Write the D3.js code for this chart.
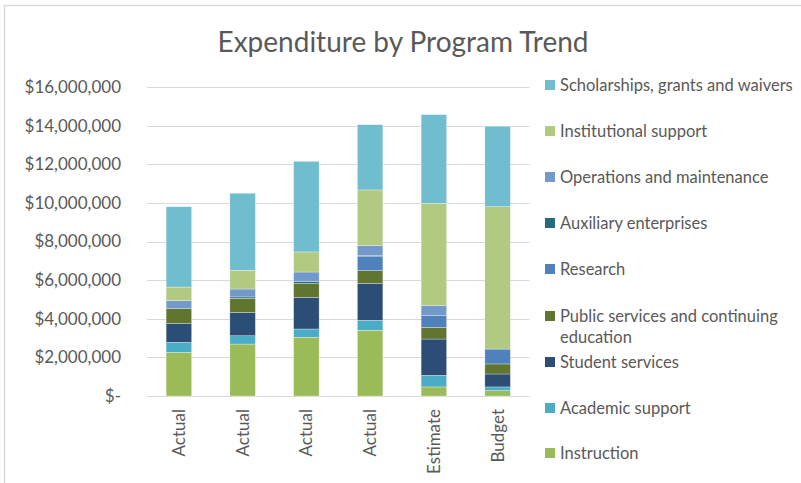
<!DOCTYPE html>
<html>
<head>
<meta charset="utf-8">
<script src="https://cdn.jsdelivr.net/npm/d3@7"></script>
<style>
  body { margin: 0; background: #fff; }
  svg text { font-family: Lato, "Open Sans", sans-serif; fill: #595959; }
</style>
</head>
<body>
<svg width="801" height="483"></svg>
<script>
// categories on the x axis
const categories = ["Actual", "Actual", "Actual", "Actual", "Estimate", "Budget"];

// series, bottom of the stack first
const seriesNames = [
  "Instruction",
  "Academic support",
  "Student services",
  "Public services and continuing education",
  "Research",
  "Auxiliary enterprises",
  "Operations and maintenance",
  "Institutional support",
  "Scholarships, grants and waivers"
];
const seriesColors = ["#9bbb59", "#4bacc6", "#2c4d75", "#5f7530", "#4f81bd", "#276a7c", "#7399cb", "#b1c981", "#71bdd0"];

// values (dollars, millions)
const instruction   = [2.26, 2.69, 3.04, 3.40, 0.47, 0.28];
const academic      = [0.52, 0.43, 0.43, 0.52, 0.60, 0.19];
const student       = [0.97, 1.21, 1.64, 1.91, 1.88, 0.67];
const publicSvc     = [0.77, 0.73, 0.72, 0.66, 0.61, 0.52];
const research      = [0.00, 0.00, 0.00, 0.73, 0.60, 0.77];
const auxiliary     = [0.00, 0.07, 0.09, 0.06, 0.00, 0.00];
const operations    = [0.42, 0.41, 0.50, 0.52, 0.52, 0.00];
const institutional = [0.70, 0.97, 1.04, 2.87, 5.30, 7.37];
const scholarships  = [4.16, 3.99, 4.69, 3.38, 4.59, 4.17];

const yTicks = [0, 2e6, 4e6, 6e6, 8e6, 10e6, 12e6, 14e6, 16e6];

const allSeries = [instruction, academic, student, publicSvc, research, auxiliary, operations, institutional, scholarships];

// build rows for d3.stack
const rows = categories.map((c, i) => {
  const r = { idx: i };
  seriesNames.forEach((s, k) => { r[s] = allSeries[k][i] * 1e6; });
  return r;
});

const svg = d3.select("svg");

// chart border
svg.append("rect")
  .attr("x", 4.5).attr("y", 5.5)
  .attr("width", 801).attr("height", 483)
  .attr("fill", "none").attr("stroke", "#d9d9d9").attr("stroke-width", 1.5);

const x = d3.scaleBand()
  .domain(d3.range(categories.length))
  .range([147, 529.5])
  .paddingInner(0.6)
  .paddingOuter(0.3);

const y = d3.scaleLinear().domain([0, 16e6]).range([396, 87]);

// gridlines
svg.append("g")
  .selectAll("line")
  .data(yTicks)
  .join("line")
  .attr("x1", 147).attr("x2", 529.5)
  .attr("y1", d => Math.round(y(d)) + 0.5)
  .attr("y2", d => Math.round(y(d)) + 0.5)
  .attr("stroke", "#d9d9d9").attr("stroke-width", 1);

// y labels
const fmt = d => d === 0 ? "$-" : "$" + d3.format(",")(d);
svg.append("g")
  .selectAll("text")
  .data(yTicks)
  .join("text")
  .attr("x", 121)
  .attr("y", d => y(d))
  .attr("dy", "0.35em")
  .attr("text-anchor", "end")
  .style("font-size", "17px")
  .text(fmt);

// stacked bars
const stacked = d3.stack().keys(seriesNames)(rows);
svg.append("g")
  .selectAll("g")
  .data(stacked)
  .join("g")
  .attr("fill", (d, i) => seriesColors[i])
  .selectAll("rect")
  .data(d => d)
  .join("rect")
  .attr("x", d => x(d.data.idx))
  .attr("width", x.bandwidth())
  .attr("y", d => y(d[1]))
  .attr("height", d => y(d[0]) - y(d[1]))
  .attr("stroke", "#fff").attr("stroke-width", 0.5).attr("stroke-opacity", 0.6);

// x labels, rotated
svg.append("g")
  .selectAll("text")
  .data(categories)
  .join("text")
  .attr("transform", (d, i) => `translate(${x(i) + x.bandwidth() / 2 + 6},409) rotate(-90)`)
  .attr("text-anchor", "end")
  .style("font-size", "17px")
  .text(d => d);

// title
svg.append("text")
  .attr("x", 403).attr("y", 52)
  .attr("text-anchor", "middle")
  .style("font-size", "28px")
  .text("Expenditure by Program Trend");

// legend, top to bottom is reverse of the stack
const legendItems = seriesNames.map((s, i) => ({ name: s, color: seriesColors[i] })).reverse();
const legendY = [85, 131, 177, 223, 269, 316, 362, 408, 453];
const lg = svg.append("g")
  .selectAll("g")
  .data(legendItems)
  .join("g")
  .attr("transform", (d, i) => `translate(545,${legendY[i]})`);
lg.append("rect")
  .attr("x", 0).attr("y", -5).attr("width", 10).attr("height", 10)
  .attr("fill", d => d.color);
lg.append("text")
  .attr("x", 15).attr("dy", "0.35em")
  .style("font-size", "16.5px")
  .each(function (d) {
    const t = d3.select(this);
    if (d.name === "Public services and continuing education") {
      t.append("tspan").attr("x", 15).text("Public services and continuing");
      t.append("tspan").attr("x", 15).attr("dy", "1.3em").text("education");
    } else {
      t.text(d.name);
    }
  });
</script>
</body>
</html>
